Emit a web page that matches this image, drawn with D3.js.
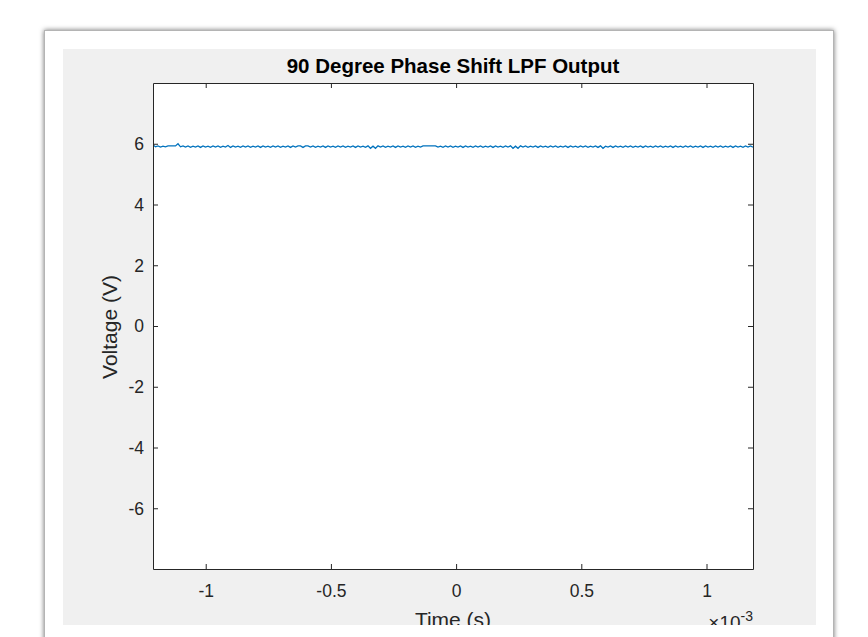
<!DOCTYPE html>
<html>
<head>
<meta charset="utf-8">
<script src="https://cdn.jsdelivr.net/npm/d3@7"></script>
<style>
  html, body { margin: 0; padding: 0; background: #ffffff; }
  svg { display: block; font-family: "Liberation Sans", Arial, sans-serif; }
</style>
</head>
<body>
<div id="viz"></div>
<script>
// Chart text
const titleText = "90 Degree Phase Shift LPF Output";
const xLabelText = "Time (s)";
const yLabelText = "Voltage (V)";

// Tick labels (x in ms, shown with a x10^-3 exponent)
const xTicks = [-1, -0.5, 0, 0.5, 1];
const yTicks = [-6, -4, -2, 0, 2, 4, 6];

// Capture window (ms) and voltage axis range
const timeRange = [-1.2105, 1.1857];
const voltRange = [-8, 8];

// Sampled LPF output (V), evenly spaced over timeRange
const voltage = [
  5.96, 5.90, 5.93, 5.89, 5.92, 5.90, 5.93, 5.93, 5.93, 5.93, 6.00, 5.90, 5.93, 5.89, 5.93, 5.88, 5.92, 5.89, 5.93, 5.88,
  5.93, 5.89, 5.92, 5.88, 5.93, 5.89, 5.93, 5.88, 5.92, 5.89, 5.94, 5.88, 5.93, 5.89, 5.92, 5.88, 5.93, 5.89, 5.93, 5.88,
  5.92, 5.89, 5.93, 5.88, 5.93, 5.89, 5.92, 5.88, 5.93, 5.89, 5.93, 5.88, 5.92, 5.89, 5.93, 5.88, 5.93, 5.89, 5.93, 5.93,
  5.88, 5.93, 5.93, 5.89, 5.93, 5.88, 5.92, 5.89, 5.93, 5.88, 5.93, 5.89, 5.92, 5.88, 5.93, 5.89, 5.93, 5.88, 5.92, 5.89,
  5.93, 5.88, 5.93, 5.89, 5.92, 5.88, 5.93, 5.85, 5.92, 5.85, 5.93, 5.89, 5.93, 5.88, 5.92, 5.89, 5.93, 5.88, 5.93, 5.89,
  5.92, 5.88, 5.93, 5.89, 5.93, 5.88, 5.92, 5.89, 5.93, 5.93, 5.93, 5.93, 5.93, 5.93, 5.89, 5.92, 5.88, 5.93, 5.89, 5.93,
  5.88, 5.92, 5.89, 5.93, 5.88, 5.93, 5.89, 5.92, 5.88, 5.93, 5.89, 5.93, 5.88, 5.92, 5.89, 5.93, 5.88, 5.93, 5.89, 5.92,
  5.88, 5.93, 5.89, 5.93, 5.85, 5.92, 5.85, 5.93, 5.89, 5.93, 5.88, 5.92, 5.89, 5.93, 5.88, 5.93, 5.89, 5.92, 5.88, 5.93,
  5.89, 5.93, 5.88, 5.92, 5.89, 5.93, 5.88, 5.93, 5.89, 5.92, 5.88, 5.93, 5.89, 5.93, 5.88, 5.92, 5.89, 5.93, 5.88, 5.93,
  5.85, 5.92, 5.89, 5.93, 5.88, 5.93, 5.89, 5.92, 5.88, 5.93, 5.89, 5.93, 5.88, 5.92, 5.89, 5.93, 5.88, 5.93, 5.89, 5.92,
  5.88, 5.93, 5.89, 5.93, 5.88, 5.92, 5.89, 5.93, 5.88, 5.93, 5.89, 5.92, 5.88, 5.93, 5.89, 5.93, 5.88, 5.92, 5.89, 5.93,
  5.88, 5.93, 5.89, 5.92, 5.88, 5.93, 5.89, 5.93, 5.88, 5.92, 5.89, 5.93, 5.88, 5.93, 5.89, 5.92, 5.88, 5.93, 5.89, 5.93, 5.89
];

const dims = { width: 868, height: 637 };
const plot = { left: 153, top: 83, right: 753, bottom: 569 };
const axisColor = "#262626";

const svg = d3.select("#viz")
    .append("svg")
    .attr("width", dims.width)
    .attr("height", dims.height);

const defs = svg.append("defs");
const shadow = defs.append("filter")
    .attr("id", "shadow")
    .attr("x", "-5%").attr("y", "-5%")
    .attr("width", "110%").attr("height", "110%");
shadow.append("feDropShadow")
    .attr("dx", 0).attr("dy", 0)
    .attr("stdDeviation", 2.5)
    .attr("flood-color", "#000")
    .attr("flood-opacity", 0.55);

defs.append("clipPath").attr("id", "panel-clip")
    .append("rect")
    .attr("x", 63).attr("y", 49)
    .attr("width", 816 - 63).attr("height", 625 - 49);

defs.append("clipPath").attr("id", "plot-clip")
    .append("rect")
    .attr("x", plot.left).attr("y", plot.top)
    .attr("width", plot.right - plot.left)
    .attr("height", plot.bottom - plot.top);

// Window card with shadow, then the grey figure panel
svg.append("rect")
    .attr("x", 44.5).attr("y", 30.5)
    .attr("width", 789).attr("height", 640)
    .style("fill", "#ffffff")
    .style("stroke", "#b4b4b4")
    .style("stroke-width", 1)
    .attr("filter", "url(#shadow)");

svg.append("rect")
    .attr("x", 63).attr("y", 49)
    .attr("width", 816 - 63).attr("height", 625 - 49)
    .style("fill", "#f0f0f0");

const panel = svg.append("g").attr("clip-path", "url(#panel-clip)");

panel.append("rect")
    .attr("x", plot.left).attr("y", plot.top)
    .attr("width", plot.right - plot.left)
    .attr("height", plot.bottom - plot.top)
    .style("fill", "#ffffff");

// Scales
const xScale = d3.scaleLinear().domain(timeRange).range([plot.left, plot.right]);
const yScale = d3.scaleLinear().domain(voltRange).range([plot.bottom, plot.top]);
const step = (timeRange[1] - timeRange[0]) / (voltage.length - 1);

// Signal
const line = d3.line()
    .x((d, i) => xScale(timeRange[0] + i * step))
    .y(d => yScale(d));

panel.append("g")
    .attr("clip-path", "url(#plot-clip)")
    .append("path")
    .datum(voltage)
    .attr("d", line)
    .style("fill", "none")
    .style("stroke", "#0072BD")
    .style("stroke-width", 1.25);

// Axes (MATLAB style box with inward ticks)
const fmt = d => String(d);

const xBottom = panel.append("g")
    .attr("transform", `translate(0,${plot.bottom})`)
    .call(d3.axisBottom(xScale).tickValues(xTicks).tickFormat(fmt)
        .tickSizeInner(-5).tickSizeOuter(0).tickPadding(16));
const xTop = panel.append("g")
    .attr("transform", `translate(0,${plot.top})`)
    .call(d3.axisTop(xScale).tickValues(xTicks).tickFormat("")
        .tickSizeInner(-5).tickSizeOuter(0));
const yLeft = panel.append("g")
    .attr("transform", `translate(${plot.left},0)`)
    .call(d3.axisLeft(yScale).tickValues(yTicks).tickFormat(fmt)
        .tickSizeInner(-5).tickSizeOuter(0).tickPadding(9));
const yRight = panel.append("g")
    .attr("transform", `translate(${plot.right},0)`)
    .call(d3.axisRight(yScale).tickValues(yTicks).tickFormat("")
        .tickSizeInner(-5).tickSizeOuter(0));

[xBottom, xTop, yLeft, yRight].forEach(ax => {
    ax.selectAll(".domain, .tick line")
        .style("stroke", axisColor)
        .style("stroke-width", 1);
    ax.selectAll("text")
        .style("fill", axisColor)
        .style("font-family", "'Liberation Sans', Arial, sans-serif")
        .style("font-size", "17.5px");
});
yLeft.selectAll("text").attr("dy", "0.34em");

// Title and labels
panel.append("text")
    .attr("x", (plot.left + plot.right) / 2)
    .attr("y", 73)
    .style("text-anchor", "middle")
    .style("font-weight", "bold")
    .style("font-size", "20.5px")
    .style("fill", "#000000")
    .text(titleText);

panel.append("text")
    .attr("x", (plot.left + plot.right) / 2)
    .attr("y", 626.5)
    .style("text-anchor", "middle")
    .style("font-size", "21px")
    .style("fill", axisColor)
    .text(xLabelText);

panel.append("text")
    .attr("transform", `translate(117,327) rotate(-90)`)
    .style("text-anchor", "middle")
    .style("font-size", "21px")
    .style("fill", axisColor)
    .text(yLabelText);

// Exponent marker for the time axis
const expo = panel.append("text")
    .attr("x", plot.right)
    .attr("y", 629)
    .style("text-anchor", "end")
    .style("font-size", "19px")
    .style("fill", axisColor);
expo.append("tspan").text("\u00d710");
expo.append("tspan")
    .attr("dy", -8)
    .style("font-size", "14px")
    .text("-3");
</script>
</body>
</html>
